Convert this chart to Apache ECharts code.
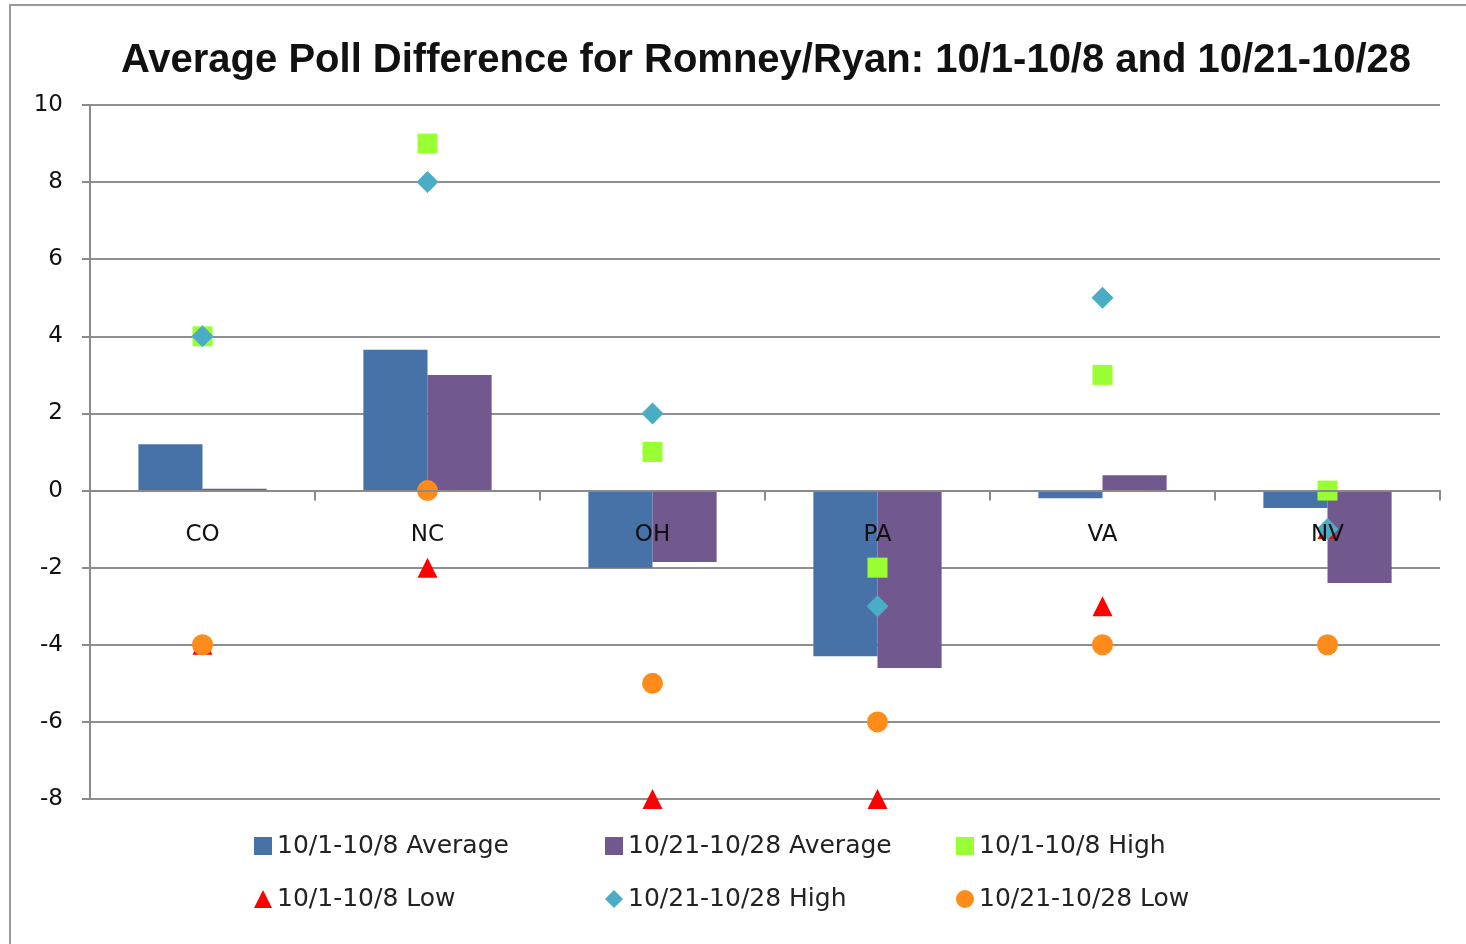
<!DOCTYPE html>
<html>
<head>
<meta charset="utf-8">
<title>Average Poll Difference for Romney/Ryan</title>
<script src="https://cdn.jsdelivr.net/npm/echarts@6/dist/echarts.min.js"></script>
<style>
  html, body { margin: 0; padding: 0; background: #fff; }
  #chart { width: 1466px; height: 944px; }
</style>
</head>
<body>
<div id="chart"></div>
<script>
// States polled
const states = ['CO', 'NC', 'OH', 'PA', 'VA', 'NV'];

// Average poll difference (Romney/Ryan minus Obama/Biden), per period
const avgEarly = [1.2, 3.65, -2.0, -4.3, -0.2, -0.45];
const avgLate  = [0.05, 3.0, -1.85, -4.6, 0.4, -2.4];

// Highest and lowest single poll in each period
const highEarly = [4, 9, 1, -2, 3, 0];
const lowEarly  = [-4, -2, -8, -8, -3, -1];
const highLate  = [4, 8, 2, -3, 5, -1];
const lowLate   = [-4, 0, -5, -6, -4, -4];

// Value axis ticks
const yTicks = { min: -8, max: 10, interval: 2 };

const names = {
  avgEarly: '10/1-10/8 Average',
  avgLate: '10/21-10/28 Average',
  highEarly: '10/1-10/8 High',
  lowEarly: '10/1-10/8 Low',
  highLate: '10/21-10/28 High',
  lowLate: '10/21-10/28 Low'
};

const colors = {
  avgEarly: '#4672A8',
  avgLate: '#71588F',
  highEarly: '#99FF33',
  lowEarly: '#FF0000',
  highLate: '#4BACC6',
  lowLate: '#FF8C1A'
};

const chart = echarts.init(document.getElementById('chart'), null, { renderer: 'canvas' });

const labelFont = 'DejaVu Sans';
const legendText = { fontFamily: labelFont, fontSize: 25, color: '#222', lineHeight: 26 };

// Plot area geometry
const gridBox = { left: 90, right: 26, top: 105, bottom: 145 };
const plotHeight = 944 - gridBox.top - gridBox.bottom;
// distance from the bottom of the plot up to the zero line, so state names sit just under it
const zeroLift = plotHeight * (0 - yTicks.min) / (yTicks.max - yTicks.min);

function legendColumn(left, items) {
  return {
    orient: 'vertical',
    left: left,
    top: 833,
    padding: 0,
    itemWidth: 18,
    itemHeight: 18,
    itemGap: 27,
    textStyle: legendText,
    data: items
  };
}

function markerSeries(key, data, symbol, size) {
  return {
    name: names[key],
    type: 'scatter',
    data: data,
    symbol: symbol,
    symbolSize: size,
    itemStyle: { color: colors[key], opacity: 1 },
    z: 3
  };
}

const option = {
  animation: false,
  backgroundColor: '#fff',
  graphic: [{
    type: 'rect',
    shape: { x: 10, y: 5, width: 1480, height: 960 },
    style: { fill: 'none', stroke: '#9a9a9a', lineWidth: 2 },
    silent: true,
    z: -1
  }],
  title: {
    text: 'Average Poll Difference for Romney/Ryan: 10/1-10/8 and 10/21-10/28',
    left: 761,
    top: 36,
    textAlign: 'center',
    textStyle: {
      fontFamily: 'Liberation Sans',
      fontWeight: 'bold',
      fontSize: 40,
      color: '#111'
    }
  },
  legend: [
    legendColumn(254, [
      { name: names.avgEarly, icon: 'rect', itemStyle: {} },
      { name: names.lowEarly, icon: 'triangle' }
    ]),
    legendColumn(605, [
      { name: names.avgLate, icon: 'rect' },
      { name: names.highLate, icon: 'diamond' }
    ]),
    legendColumn(956, [
      { name: names.highEarly, icon: 'rect' },
      { name: names.lowLate, icon: 'circle' }
    ])
  ],
  grid: { left: gridBox.left, right: gridBox.right, top: gridBox.top, bottom: gridBox.bottom, containLabel: false },
  xAxis: {
    type: 'category',
    data: states,
    boundaryGap: true,
    z: 5,
    axisLine: { show: true, onZero: true, lineStyle: { color: '#8a8a8a', width: 2 } },
    axisTick: { show: true, alignWithLabel: false, length: 10, lineStyle: { color: '#8a8a8a', width: 2 } },
    axisLabel: { margin: 33 - zeroLift, fontFamily: labelFont, fontSize: 23, color: '#111' },
    splitLine: { show: false }
  },
  yAxis: {
    type: 'value',
    min: yTicks.min,
    max: yTicks.max,
    interval: yTicks.interval,
    axisLine: { show: true, lineStyle: { color: '#8a8a8a', width: 2 } },
    axisTick: { show: true, length: 8, lineStyle: { color: '#8a8a8a', width: 2 } },
    axisLabel: { margin: 27, fontFamily: labelFont, fontSize: 23, color: '#111' },
    splitLine: { show: true, lineStyle: { color: '#8f8f8f', width: 2 } }
  },
  series: [
    {
      name: names.avgEarly,
      type: 'bar',
      data: avgEarly,
      barGap: '0%',
      barCategoryGap: '43%',
      itemStyle: { color: colors.avgEarly }
    },
    {
      name: names.avgLate,
      type: 'bar',
      data: avgLate,
      barGap: '0%',
      barCategoryGap: '43%',
      itemStyle: { color: colors.avgLate }
    },
    markerSeries('highEarly', highEarly, 'rect', 20),
    markerSeries('lowEarly', lowEarly, 'triangle', 20),
    markerSeries('highLate', highLate, 'diamond', 22),
    markerSeries('lowLate', lowLate, 'circle', 21)
  ]
};

chart.setOption(option);
</script>
</body>
</html>
